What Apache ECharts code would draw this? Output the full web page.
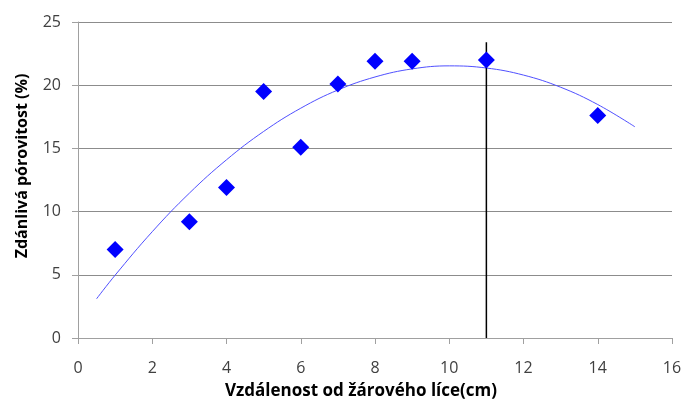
<!DOCTYPE html>
<html>
<head>
<meta charset="utf-8">
<script src="https://cdn.jsdelivr.net/npm/echarts@6/dist/echarts.min.js"></script>
<style>
  html, body { margin: 0; padding: 0; background: #fff; }
  #chart { width: 686px; height: 406px; }
</style>
</head>
<body>
<div id="chart"></div>
<script>
// Measured apparent porosity vs. distance from the hot face
const distance = [1, 3, 4, 5, 6, 7, 8, 9, 11, 14];
const porosity = [7.0, 9.2, 11.9, 19.5, 15.1, 20.1, 21.9, 21.9, 22.0, 17.6];

// Polynomial trend curve (sampled along x)
const trendX = [0.5, 1, 2, 3, 4, 5, 6, 7, 8, 9, 10, 11, 12, 13, 14, 15];
const trendY = [3.10, 4.97, 8.41, 11.46, 14.10, 16.34, 18.18, 19.62, 20.65, 21.29, 21.53, 21.36, 20.80, 19.84, 18.47, 16.71];

// Vertical marker line at 11 cm
const markerX = [11, 11];
const markerY = [0, 23.4];

const xTicks = [0, 2, 4, 6, 8, 10, 12, 14, 16];
const yTicks = [0, 5, 10, 15, 20, 25];

const xTitle = 'Vzdálenost od žárového líce(cm)';
const yTitle = 'Zdánlivá pórovitost (%)';

const zip = (a, b) => a.map((v, i) => [v, b[i]]);

const chart = echarts.init(document.getElementById('chart'), null, { renderer: 'canvas' });

const axisText = { fontFamily: 'Open Sans', fontSize: 16, color: '#404040' };

chart.setOption({
  animation: false,
  backgroundColor: '#fff',
  grid: { left: 78, right: 14, top: 22, bottom: 68, containLabel: false },
  // axis titles
  graphic: [
    {
      type: 'text',
      x: 361, y: 391,
      style: {
        text: xTitle, fontFamily: 'Open Sans', fontSize: 17, fontWeight: 'bold',
        fill: '#000', align: 'center', verticalAlign: 'middle'
      }
    },
    {
      type: 'text',
      x: 22, y: 166,
      rotation: Math.PI / 2,
      style: {
        text: yTitle, fontFamily: 'Open Sans', fontSize: 16, fontWeight: 'bold',
        fill: '#000', align: 'center', verticalAlign: 'middle'
      }
    }
  ],
  xAxis: {
    type: 'value',
    min: xTicks[0],
    max: xTicks[xTicks.length - 1],
    interval: 2,
    axisLine: { show: true, onZero: false, lineStyle: { color: '#a0a0a0', width: 1 } },
    axisTick: { show: true, length: 6, lineStyle: { color: '#a0a0a0' } },
    axisLabel: Object.assign({ margin: 22 }, axisText),
    splitLine: { show: false }
  },
  yAxis: {
    type: 'value',
    min: yTicks[0],
    max: yTicks[yTicks.length - 1],
    interval: 5,
    axisLine: { show: true, lineStyle: { color: '#a0a0a0', width: 1 } },
    axisTick: { show: true, length: 6, lineStyle: { color: '#a0a0a0' } },
    axisLabel: Object.assign({ margin: 17 }, axisText),
    splitLine: { show: true, lineStyle: { color: '#8c8c8c', width: 1 } }
  },
  series: [
    {
      name: 'trend',
      type: 'line',
      data: zip(trendX, trendY),
      smooth: 0.4,
      showSymbol: false,
      symbol: 'none',
      lineStyle: { color: '#5050ff', width: 1 },
      z: 2
    },
    {
      name: 'marker',
      type: 'line',
      data: zip(markerX, markerY),
      showSymbol: false,
      symbol: 'none',
      lineStyle: { color: '#000', width: 1.5 },
      z: 3
    },
    {
      name: 'porosity',
      type: 'scatter',
      data: zip(distance, porosity),
      symbol: 'diamond',
      symbolSize: [17, 17],
      itemStyle: { color: '#0000ff', opacity: 1 },
      z: 4
    }
  ]
});
</script>
</body>
</html>
